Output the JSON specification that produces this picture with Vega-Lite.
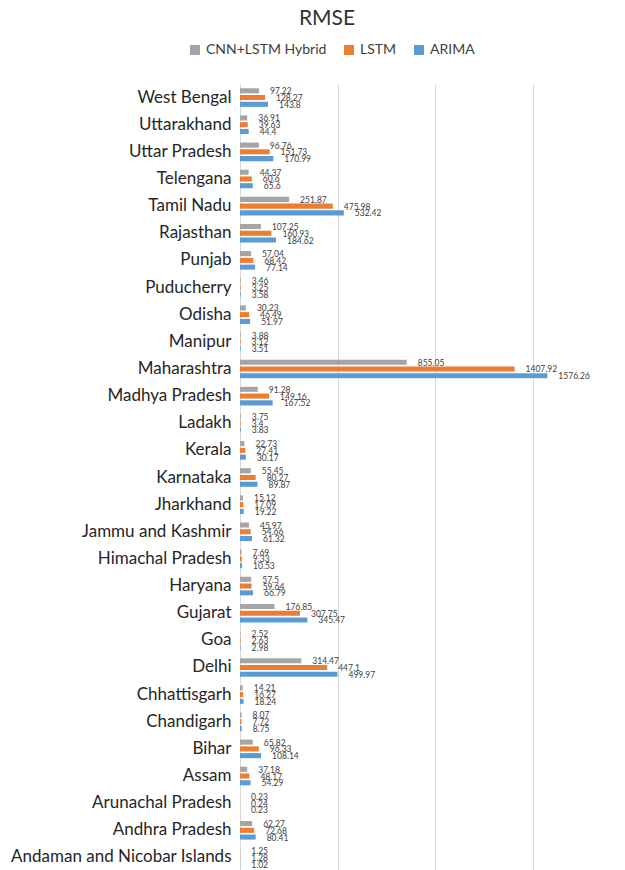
{
  "$schema": "https://vega.github.io/schema/vega-lite/v6.json",
  "autosize": {"type": "none"},
  "padding": {"left": 240, "top": 84, "right": 0, "bottom": 0},
  "width": 390,
  "height": 787,
  "background": "white",
  "title": {"text": "RMSE", "font": "Lato", "fontSize": 21, "fontWeight": "normal", "color": "#333333", "anchor": "middle", "dx": -108, "offset": 14},
  "data": {"values": [
    {"state": "West Bengal", "model": "CNN+LSTM Hybrid", "value": 97.22},
    {"state": "West Bengal", "model": "LSTM", "value": 128.27},
    {"state": "West Bengal", "model": "ARIMA", "value": 143.8},
    {"state": "Uttarakhand", "model": "CNN+LSTM Hybrid", "value": 36.91},
    {"state": "Uttarakhand", "model": "LSTM", "value": 39.63},
    {"state": "Uttarakhand", "model": "ARIMA", "value": 44.4},
    {"state": "Uttar Pradesh", "model": "CNN+LSTM Hybrid", "value": 96.76},
    {"state": "Uttar Pradesh", "model": "LSTM", "value": 151.73},
    {"state": "Uttar Pradesh", "model": "ARIMA", "value": 170.99},
    {"state": "Telengana", "model": "CNN+LSTM Hybrid", "value": 44.37},
    {"state": "Telengana", "model": "LSTM", "value": 60.6},
    {"state": "Telengana", "model": "ARIMA", "value": 65.6},
    {"state": "Tamil Nadu", "model": "CNN+LSTM Hybrid", "value": 251.87},
    {"state": "Tamil Nadu", "model": "LSTM", "value": 475.98},
    {"state": "Tamil Nadu", "model": "ARIMA", "value": 532.42},
    {"state": "Rajasthan", "model": "CNN+LSTM Hybrid", "value": 107.25},
    {"state": "Rajasthan", "model": "LSTM", "value": 160.93},
    {"state": "Rajasthan", "model": "ARIMA", "value": 184.62},
    {"state": "Punjab", "model": "CNN+LSTM Hybrid", "value": 57.04},
    {"state": "Punjab", "model": "LSTM", "value": 68.42},
    {"state": "Punjab", "model": "ARIMA", "value": 77.14},
    {"state": "Puducherry", "model": "CNN+LSTM Hybrid", "value": 3.46},
    {"state": "Puducherry", "model": "LSTM", "value": 3.25},
    {"state": "Puducherry", "model": "ARIMA", "value": 3.58},
    {"state": "Odisha", "model": "CNN+LSTM Hybrid", "value": 30.23},
    {"state": "Odisha", "model": "LSTM", "value": 46.49},
    {"state": "Odisha", "model": "ARIMA", "value": 51.97},
    {"state": "Manipur", "model": "CNN+LSTM Hybrid", "value": 3.88},
    {"state": "Manipur", "model": "LSTM", "value": 3.12},
    {"state": "Manipur", "model": "ARIMA", "value": 3.51},
    {"state": "Maharashtra", "model": "CNN+LSTM Hybrid", "value": 855.05},
    {"state": "Maharashtra", "model": "LSTM", "value": 1407.92},
    {"state": "Maharashtra", "model": "ARIMA", "value": 1576.26},
    {"state": "Madhya Pradesh", "model": "CNN+LSTM Hybrid", "value": 91.28},
    {"state": "Madhya Pradesh", "model": "LSTM", "value": 149.16},
    {"state": "Madhya Pradesh", "model": "ARIMA", "value": 167.52},
    {"state": "Ladakh", "model": "CNN+LSTM Hybrid", "value": 3.75},
    {"state": "Ladakh", "model": "LSTM", "value": 3.4},
    {"state": "Ladakh", "model": "ARIMA", "value": 3.83},
    {"state": "Kerala", "model": "CNN+LSTM Hybrid", "value": 22.73},
    {"state": "Kerala", "model": "LSTM", "value": 27.41},
    {"state": "Kerala", "model": "ARIMA", "value": 30.17},
    {"state": "Karnataka", "model": "CNN+LSTM Hybrid", "value": 55.45},
    {"state": "Karnataka", "model": "LSTM", "value": 80.27},
    {"state": "Karnataka", "model": "ARIMA", "value": 89.87},
    {"state": "Jharkhand", "model": "CNN+LSTM Hybrid", "value": 15.12},
    {"state": "Jharkhand", "model": "LSTM", "value": 17.09},
    {"state": "Jharkhand", "model": "ARIMA", "value": 19.22},
    {"state": "Jammu and Kashmir", "model": "CNN+LSTM Hybrid", "value": 45.97},
    {"state": "Jammu and Kashmir", "model": "LSTM", "value": 54.66},
    {"state": "Jammu and Kashmir", "model": "ARIMA", "value": 61.32},
    {"state": "Himachal Pradesh", "model": "CNN+LSTM Hybrid", "value": 7.69},
    {"state": "Himachal Pradesh", "model": "LSTM", "value": 9.33},
    {"state": "Himachal Pradesh", "model": "ARIMA", "value": 10.53},
    {"state": "Haryana", "model": "CNN+LSTM Hybrid", "value": 57.5},
    {"state": "Haryana", "model": "LSTM", "value": 59.64},
    {"state": "Haryana", "model": "ARIMA", "value": 66.79},
    {"state": "Gujarat", "model": "CNN+LSTM Hybrid", "value": 176.85},
    {"state": "Gujarat", "model": "LSTM", "value": 307.75},
    {"state": "Gujarat", "model": "ARIMA", "value": 345.47},
    {"state": "Goa", "model": "CNN+LSTM Hybrid", "value": 2.52},
    {"state": "Goa", "model": "LSTM", "value": 2.63},
    {"state": "Goa", "model": "ARIMA", "value": 2.98},
    {"state": "Delhi", "model": "CNN+LSTM Hybrid", "value": 314.47},
    {"state": "Delhi", "model": "LSTM", "value": 447.1},
    {"state": "Delhi", "model": "ARIMA", "value": 499.97},
    {"state": "Chhattisgarh", "model": "CNN+LSTM Hybrid", "value": 14.21},
    {"state": "Chhattisgarh", "model": "LSTM", "value": 16.27},
    {"state": "Chhattisgarh", "model": "ARIMA", "value": 18.24},
    {"state": "Chandigarh", "model": "CNN+LSTM Hybrid", "value": 8.07},
    {"state": "Chandigarh", "model": "LSTM", "value": 7.72},
    {"state": "Chandigarh", "model": "ARIMA", "value": 8.75},
    {"state": "Bihar", "model": "CNN+LSTM Hybrid", "value": 65.82},
    {"state": "Bihar", "model": "LSTM", "value": 96.33},
    {"state": "Bihar", "model": "ARIMA", "value": 108.14},
    {"state": "Assam", "model": "CNN+LSTM Hybrid", "value": 37.18},
    {"state": "Assam", "model": "LSTM", "value": 48.17},
    {"state": "Assam", "model": "ARIMA", "value": 54.29},
    {"state": "Arunachal Pradesh", "model": "CNN+LSTM Hybrid", "value": 0.23},
    {"state": "Arunachal Pradesh", "model": "LSTM", "value": 0.24},
    {"state": "Arunachal Pradesh", "model": "ARIMA", "value": 0.23},
    {"state": "Andhra Pradesh", "model": "CNN+LSTM Hybrid", "value": 62.27},
    {"state": "Andhra Pradesh", "model": "LSTM", "value": 72.68},
    {"state": "Andhra Pradesh", "model": "ARIMA", "value": 80.41},
    {"state": "Andaman and Nicobar Islands", "model": "CNN+LSTM Hybrid", "value": 1.25},
    {"state": "Andaman and Nicobar Islands", "model": "LSTM", "value": 1.28},
    {"state": "Andaman and Nicobar Islands", "model": "ARIMA", "value": 1.02}
  ]},
  "encoding": {
    "y": {
      "field": "state", "type": "nominal", "sort": null, "title": null,
      "scale": {"paddingInner": 0.315, "paddingOuter": 0.157},
      "axis": {"domain": true, "domainColor": "#D9D9D9", "ticks": false, "labelFont": "Lato", "labelFontSize": 17, "labelColor": "#262626", "labelPadding": 9, "labelLimit": 300}
    },
    "yOffset": {
      "field": "model", "type": "nominal", "sort": ["CNN+LSTM Hybrid", "LSTM", "ARIMA"],
      "scale": {"paddingInner": 0.25, "paddingOuter": 0}
    },
    "x": {
      "field": "value", "type": "quantitative", "title": null,
      "scale": {"domain": [0, 2000], "nice": false},
      "axis": {"values": [0, 500, 1000, 1500, 2000], "labels": false, "ticks": false, "domain": false, "grid": true, "gridColor": "#D9D9D9", "gridWidth": 1}
    }
  },
  "layer": [
    {
      "mark": {"type": "bar"},
      "encoding": {
        "color": {
          "field": "model", "type": "nominal",
          "sort": ["CNN+LSTM Hybrid", "LSTM", "ARIMA"],
          "scale": {"domain": ["CNN+LSTM Hybrid", "LSTM", "ARIMA"], "range": ["#A5A5A5", "#ED7D31", "#5B9BD5"]},
          "legend": {
            "title": null, "orient": "none", "legendX": -52, "legendY": -41, "direction": "horizontal",
            "symbolType": "square", "symbolSize": 100, "symbolStrokeWidth": 0,
            "labelFont": "Lato", "labelFontSize": 14, "labelColor": "#404040", "labelOffset": 4, "columnPadding": 15
          }
        }
      }
    },
    {
      "mark": {"type": "text", "align": "left", "baseline": "middle", "dx": 11, "dy": 0.5, "font": "Lato", "fontSize": 8.5, "color": "#404040"},
      "encoding": {"text": {"field": "value", "type": "quantitative"}}
    }
  ],
  "config": {"view": {"stroke": null}}
}
